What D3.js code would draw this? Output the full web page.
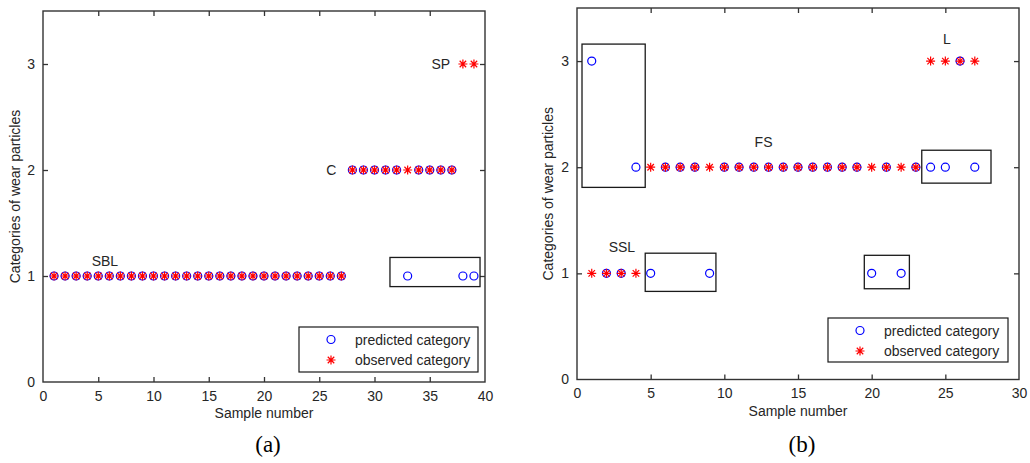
<!DOCTYPE html>
<html>
<head>
<meta charset="utf-8">
<script src="https://cdn.jsdelivr.net/npm/d3@7"></script>
<style>
  body { margin: 0; background: #fff; }
  text { font-family: Arial, "Liberation Sans", sans-serif; fill: #262626; }
  .caption { font-family: "Times New Roman", "Liberation Serif", serif; fill: #000; }
</style>
</head>
<body>
<svg id="chart" width="1030" height="463"></svg>
<script>
// panel (a)
const predictedA = [1,1,1,1,1,1,1,1,1,1,1,1,1,1,1,1,1,1,1,1,1,1,1,1,1,1,1,
                    2,2,2,2,2,1,2,2,2,2,1,1];
const observedA  = [1,1,1,1,1,1,1,1,1,1,1,1,1,1,1,1,1,1,1,1,1,1,1,1,1,1,1,
                    2,2,2,2,2,2,2,2,2,2,3,3];
const boxesA = [[31.4, 39.55, 0.9, 1.175]];
const labelsA = [["SBL", 5.6, 1.14], ["C", 26.1, 2.0], ["SP", 36.0, 3.0]];

// panel (b)
const predictedB = [3,1,1,2,1,2,2,2,1,2,2,2,2,2,2,2,2,2,2,1,2,1,2,2,2,3,2];
const observedB  = [1,1,1,1,2,2,2,2,2,2,2,2,2,2,2,2,2,2,2,2,2,2,2,3,3,3,3];
const boxesB = [[0.34, 4.63, 1.81, 3.16], [23.4, 28.1, 1.85, 2.16],
                [4.63, 9.43, 0.83, 1.19], [19.5, 22.56, 0.855, 1.17]];
const labelsB = [["SSL", 3.05, 1.25], ["FS", 12.66, 2.24], ["L", 25.1, 3.21]];

const yTicks = [0, 1, 2, 3];
const legendNames = ["predicted category", "observed category"];

const svg = d3.select("#chart");

function star(g, x, y, s) {
  const d = s * 0.72;
  g.append("path")
    .attr("d", `M${x - s},${y}H${x + s}M${x},${y - s}V${y + s}` +
               `M${x - d},${y - d}L${x + d},${y + d}M${x - d},${y + d}L${x + d},${y - d}`)
    .attr("stroke", "#ff0000")
    .attr("stroke-width", 1.2)
    .attr("fill", "none");
}

function circle(g, x, y) {
  g.append("circle")
    .attr("cx", x).attr("cy", y).attr("r", 4)
    .attr("fill", "none")
    .attr("stroke", "#0000ff")
    .attr("stroke-width", 1.2);
}

function panel(opt) {
  const { left, right, top, bottom, xMax, xTicks, predicted, observed, boxes, labels, legend, caption, labelX } = opt;
  const x = d3.scaleLinear().domain([0, xMax]).range([left, right]);
  const y = d3.scaleLinear().domain([0, 3.5]).range([bottom, top]);
  const g = svg.append("g");

  // axes (MATLAB box style, ticks inward)
  g.append("g").attr("transform", `translate(0,${bottom})`)
    .call(d3.axisBottom(x).tickValues(xTicks).tickSize(-5).tickPadding(9).tickFormat(d3.format("d")))
    .call(a => a.select(".domain").remove());
  g.append("g").attr("transform", `translate(0,${top})`)
    .call(d3.axisTop(x).tickValues(xTicks).tickSize(-5).tickFormat(""))
    .call(a => a.select(".domain").remove());
  g.append("g").attr("transform", `translate(${left},0)`)
    .call(d3.axisLeft(y).tickValues(yTicks).tickSize(-5).tickPadding(8).tickFormat(d3.format("d")))
    .call(a => a.select(".domain").remove());
  g.append("g").attr("transform", `translate(${right},0)`)
    .call(d3.axisRight(y).tickValues(yTicks).tickSize(-5).tickFormat(""))
    .call(a => a.select(".domain").remove());
  g.selectAll(".tick line").attr("stroke", "#333").attr("stroke-width", 1.3);
  g.selectAll(".tick text").style("font-size", "14px").attr("fill", "#262626");
  g.selectAll(".tick")
    .filter(d => d === 0 || d === xMax)
    .select("line").remove();

  g.append("rect")
    .attr("x", left).attr("y", top)
    .attr("width", right - left).attr("height", bottom - top)
    .attr("fill", "none").attr("stroke", "#333").attr("stroke-width", 1.4);

  // highlight boxes
  boxes.forEach(b => {
    g.append("rect")
      .attr("x", x(b[0])).attr("y", y(b[3]))
      .attr("width", x(b[1]) - x(b[0])).attr("height", y(b[2]) - y(b[3]))
      .attr("fill", "none").attr("stroke", "#1a1a1a").attr("stroke-width", 1.3);
  });

  // points
  predicted.forEach((v, i) => circle(g, x(i + 1), y(v)));
  observed.forEach((v, i) => star(g, x(i + 1), y(v), 4.5));

  labels.forEach(l => {
    g.append("text")
      .attr("x", x(l[1])).attr("y", y(l[2]))
      .attr("text-anchor", "middle")
      .attr("dominant-baseline", "central")
      .style("font-size", "14px")
      .text(l[0]);
  });

  // legend
  const lg = g.append("g");
  lg.append("rect")
    .attr("x", legend.x).attr("y", legend.y)
    .attr("width", legend.w).attr("height", legend.h)
    .attr("fill", "#fff").attr("stroke", "#1a1a1a").attr("stroke-width", 1.2);
  legendNames.forEach((name, i) => {
    const ly = legend.y + 12.5 + i * 20.5;
    if (i === 0) circle(lg, legend.x + 32, ly);
    else star(lg, legend.x + 32, ly, 4.5);
    lg.append("text")
      .attr("x", legend.x + 56).attr("y", ly)
      .attr("dominant-baseline", "central")
      .style("font-size", "14px")
      .text(name);
  });

  // axis titles
  g.append("text")
    .attr("x", (left + right) / 2).attr("y", bottom + 36)
    .attr("text-anchor", "middle")
    .style("font-size", "14px")
    .text("Sample number");
  g.append("text")
    .attr("transform", `translate(${labelX},${(top + bottom) / 2}) rotate(-90)`)
    .attr("text-anchor", "middle")
    .attr("dominant-baseline", "central")
    .style("font-size", "14px")
    .text("Categories of wear particles");

  g.append("text")
    .attr("class", "caption")
    .attr("x", (left + right) / 2 + 4).attr("y", 444)
    .attr("text-anchor", "middle")
    .attr("dominant-baseline", "central")
    .style("font-size", "23px")
    .text(caption);
}

panel({
  left: 43, right: 485, top: 11, bottom: 382, xMax: 40,
  xTicks: [0, 5, 10, 15, 20, 25, 30, 35, 40],
  predicted: predictedA, observed: observedA, boxes: boxesA, labels: labelsA,
  legend: { x: 299, y: 327, w: 179, h: 45 }, caption: "(a)", labelX: 15
});

panel({
  left: 577, right: 1019, top: 8, bottom: 379.5, xMax: 30,
  xTicks: [0, 5, 10, 15, 20, 25, 30],
  predicted: predictedB, observed: observedB, boxes: boxesB, labels: labelsB,
  legend: { x: 828, y: 318, w: 180, h: 44 }, caption: "(b)", labelX: 548
});
</script>
</body>
</html>
